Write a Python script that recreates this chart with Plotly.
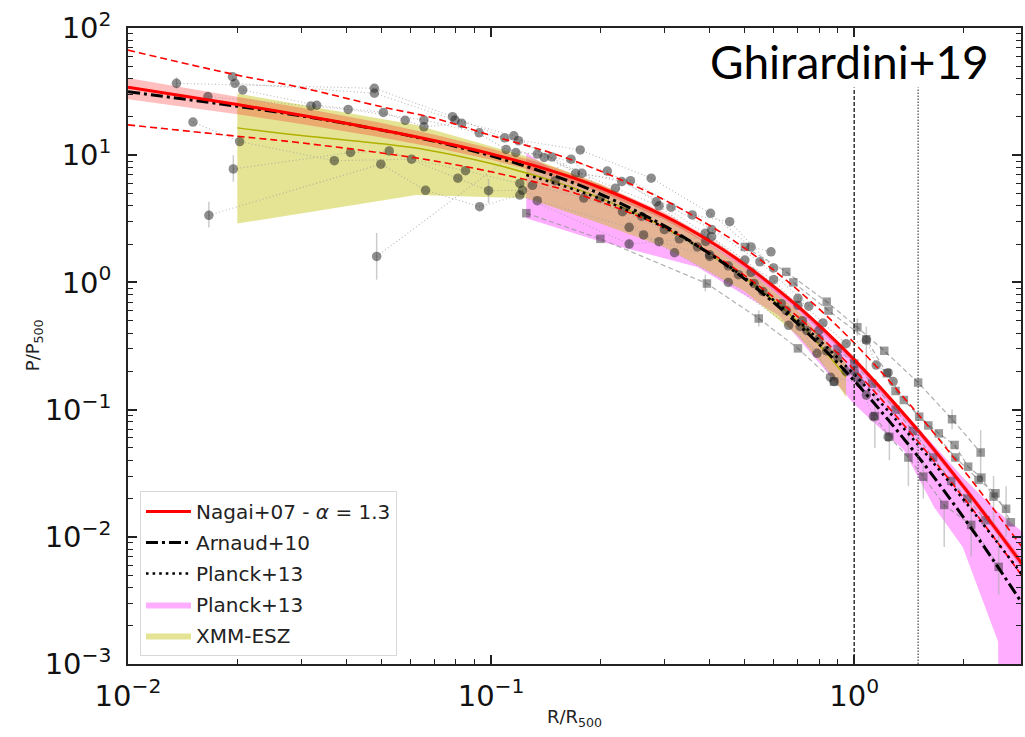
import math
import plotly.graph_objects as go

# ---------------- data ----------------
X_MODEL = [0.01, 0.02, 0.03, 0.05, 0.07, 0.1, 0.15, 0.2, 0.3, 0.4, 0.5, 0.7, 1.0, 1.5, 2.0, 2.5, 2.9]
NAGAI = [34.2, 25.0, 20.6, 15.8, 13.0, 10.25, 7.39, 5.55, 3.33, 2.105, 1.38, 0.647, 0.247, 0.0684, 0.0248, 0.0108, 0.0061]
NAGAI_HI = [40.5, 29.0, 23.6, 17.9, 14.5, 11.3, 8.0, 5.95, 3.55, 2.24, 1.46, 0.685, 0.262, 0.0725, 0.0265, 0.0116, 0.0066]
NAGAI_LO = [27.5, 21.0, 17.6, 13.8, 11.5, 9.2, 6.8, 5.15, 3.12, 1.97, 1.3, 0.61, 0.232, 0.0643, 0.0232, 0.0100, 0.0056]
SCATTER_HI = [67.0, 42.6, 34.0, 24.0, 19.5, 14.3, 10.2, 7.5, 4.45, 2.8, 1.85, 0.87, 0.334, 0.092, 0.0335, 0.0146, 0.0083]
SCATTER_LO = [17.3, 14.1, 12.5, 10.4, 9.0, 7.4, 5.6, 4.3, 2.7, 1.72, 1.13, 0.535, 0.205, 0.056, 0.0203, 0.0088, 0.0049]
ARNAUD = [31.5, 24.26, 20.37, 15.75, 12.84, 9.905, 6.85, 4.95, 2.787, 1.678, 1.0605, 0.471, 0.1687, 0.04267, 0.0142, 0.00567, 0.0030]

X_PLANCK = [0.125, 0.15, 0.2, 0.3, 0.4, 0.5, 0.7, 1.0, 1.5, 2.0, 2.5, 2.9]
PLANCK = [7.0, 6.02, 4.53, 2.70, 1.68, 1.086, 0.50, 0.189, 0.0528, 0.0196, 0.00875, 0.00504]

X_PLANCK_BAND_HI = [0.125, 0.15, 0.2, 0.3, 0.5, 0.7, 1.0, 1.5, 2.0, 2.5, 2.9]
PLANCK_BAND_HI = [10.4, 7.5, 5.5, 3.3, 1.35, 0.64, 0.25, 0.072, 0.029, 0.0155, 0.011]
X_PLANCK_BAND_LO = [0.125, 0.2, 0.37, 0.62, 1.0, 1.37, 1.66, 1.99, 2.49, 2.5, 2.9]
PLANCK_BAND_LO = [3.2, 2.1, 1.32, 0.55, 0.11, 0.048, 0.0171, 0.0083, 0.0015, 0.0005, 0.0005]

X_XMM = [0.02, 0.0622, 0.125, 0.2, 0.3, 0.5, 0.7, 0.85, 0.95]
XMM_HI = [30.5, 17.3, 9.8, 5.9, 3.4, 1.3, 0.6, 0.33, 0.23]
XMM_LO = [2.9, 4.86, 4.6, 2.9, 1.9, 0.85, 0.38, 0.2, 0.125]
X_XMM_MED = [0.02, 0.03, 0.05, 0.0667, 0.1, 0.15, 0.2, 0.3, 0.5, 0.7, 0.95]
XMM_MED = [16.4, 14.3, 12.3, 11.0, 8.6, 6.2, 4.6, 2.7, 1.08, 0.49, 0.18]

# individual cluster profiles (X-ray: circles, SZ: squares)
CIRC_X = [
    [0.0136, 0.0477, 0.0783, 0.109, 0.176, 0.276, 0.402, 0.52, 0.59],
    [0.0194, 0.0197, 0.0477, 0.0796, 0.1155, 0.171, 0.242, 0.358, 0.454, 0.6],
    [0.0166, 0.0319, 0.0404, 0.0653, 0.0927, 0.119, 0.178, 0.229, 0.313, 0.405, 0.55, 0.75],
    [0.0207, 0.0331, 0.0505, 0.058, 0.0653, 0.083, 0.110, 0.147, 0.209, 0.285, 0.389, 0.5, 0.7],
    [0.0151, 0.0203, 0.037, 0.0604, 0.085, 0.120, 0.134, 0.24, 0.29, 0.4],
    [0.0195, 0.041, 0.0524, 0.081, 0.0984, 0.122, 0.166, 0.263, 0.32, 0.45, 0.66, 0.79, 0.88],
    [0.0167, 0.0497, 0.066, 0.093, 0.12, 0.24, 0.405, 0.52, 0.71, 0.86, 1.04],
    [0.0484, 0.117, 0.134, 0.14, 0.22, 0.29, 0.39, 0.6, 0.8, 1.0, 1.13, 1.24],
    [0.15, 0.2, 0.26, 0.33, 0.4, 0.48, 0.56, 0.65, 0.74, 0.84, 0.95, 1.08],
    [0.13, 0.18, 0.23, 0.3, 0.37, 0.45, 0.53, 0.63, 0.72, 0.8, 0.9, 1.02],
    [0.7, 0.82, 0.95, 1.08, 1.15, 1.24, 1.28],
]
CIRC_Y = [
    [36.7, 33.6, 20.1, 13.7, 11.0, 6.6, 3.49, 1.9, 1.74],
    [41.4, 36.7, 30.7, 18.9, 14.2, 7.2, 6.3, 3.39, 3.0, 1.3],
    [28.9, 24.4, 22.9, 18.9, 15.0, 13.0, 7.2, 6.2, 3.9, 2.6, 1.45, 0.65],
    [32.6, 24.7, 21.7, 18.8, 16.7, 17.8, 11.1, 9.7, 7.5, 4.3, 2.43, 1.5, 0.66],
    [18.2, 12.8, 9.06, 9.3, 7.55, 6.0, 4.39, 2.71, 2.09, 1.6],
    [7.8, 10.5, 10.8, 6.6, 5.26, 5.3, 9.3, 2.36, 1.71, 1.0, 0.46, 0.277, 0.166],
    [3.37, 8.5, 5.3, 3.94, 4.86, 2.0, 2.29, 1.2, 0.45, 0.18, 0.161],
    [1.6, 10.5, 10.2, 9.6, 5.5, 4.0, 2.1, 1.05, 0.42, 0.2, 0.088, 0.061],
    [6.3, 4.6, 3.3, 2.2, 1.65, 1.15, 0.85, 0.6, 0.42, 0.29, 0.2, 0.13],
    [5.8, 4.6, 3.6, 2.6, 1.9, 1.35, 0.98, 0.68, 0.5, 0.36, 0.26, 0.18],
    [0.75, 0.48, 0.33, 0.352, 0.224, 0.195, 0.166],
]
SQ_X = [
    [0.5, 0.65, 0.84, 1.02, 1.21, 1.5, 1.86, 2.23],
    [0.68, 0.85, 1.08, 1.23, 1.37, 1.51, 1.71, 1.89, 2.06, 2.24, 2.42, 2.62],
    [0.125, 0.2, 0.393, 0.546, 0.70, 0.88],
    [1.14, 1.25, 1.41, 1.55, 1.77, 2.1, 2.5],
    [0.9, 1.0, 1.12, 1.3, 1.45, 1.65, 1.85, 2.05, 2.3],
    [1.3, 1.6, 1.9, 2.2, 2.45, 2.7],
]
SQ_Y = [
    [1.9, 1.21, 0.705, 0.444, 0.29, 0.163, 0.084, 0.046],
    [1.0, 0.6, 0.357, 0.193, 0.119, 0.088, 0.065, 0.0527, 0.0356, 0.0292, 0.0207, 0.0166],
    [3.5, 2.2, 0.98, 0.52, 0.303, 0.166],
    [0.089, 0.061, 0.042, 0.0297, 0.0178, 0.0124, 0.0058],
    [0.3, 0.23, 0.16, 0.1, 0.068, 0.042, 0.0275, 0.02, 0.0135],
    [0.14, 0.075, 0.042, 0.028, 0.022, 0.013],
]
ERR_X = [0.0136, 0.0195, 0.0167, 0.0484, 0.0984, 0.24, 0.389, 0.546, 1.02, 1.08, 1.14, 1.25,
         1.41, 1.55, 1.77, 1.86, 2.1, 2.23, 2.42, 2.5, 2.62]
ERR_LO = [33.0, 6.2, 2.7, 1.05, 4.2, 1.85, 0.85, 0.45, 0.38, 0.2, 0.05, 0.04,
          0.025, 0.02, 0.0083, 0.07, 0.007, 0.0295, 0.012, 0.0035, 0.01]
ERR_HI = [41.0, 10.0, 4.3, 2.45, 6.5, 2.2, 1.15, 0.6, 0.52, 0.45, 0.16, 0.09,
          0.065, 0.04, 0.018, 0.1, 0.02, 0.069, 0.03, 0.011, 0.025]

VLINE_X = [1.0, 1.5]
VLINE_Y = [0.001, 34.0]

X_TICKVALS = [0.01, 0.1, 1.0]
X_TICKTEXT = ["10<sup>\u22122</sup>", "10<sup>\u22121</sup>", "10<sup>0</sup>"]
Y_TICKVALS = [0.001, 0.01, 0.1, 1.0, 10.0, 100.0]
Y_TICKTEXT = ["10<sup>\u22123</sup>", "10<sup>\u22122</sup>", "10<sup>\u22121</sup>",
              "10<sup>0</sup>", "10<sup>1</sup>", "10<sup>2</sup>"]

X_MAX = 2.88

LEGEND_NAMES = ["Nagai+07 - <i>\u03b1</i> = 1.3", "Arnaud+10", "Planck+13", "Planck+13", "XMM-ESZ"]

# ---------------- figure ----------------
fig = go.Figure()

# Planck band
fig.add_trace(go.Scatter(
    x=X_PLANCK_BAND_HI + X_PLANCK_BAND_LO[::-1], y=PLANCK_BAND_HI + PLANCK_BAND_LO[::-1],
    fill="toself", fillcolor="rgba(255,0,255,0.32)", line=dict(width=0), mode="lines",
    name=LEGEND_NAMES[3], legendrank=4, legendgroup="g4", hoverinfo="skip"))
# XMM-ESZ band
fig.add_trace(go.Scatter(
    x=X_XMM + X_XMM[::-1], y=XMM_HI + XMM_LO[::-1], fill="toself",
    fillcolor="rgba(191,191,0,0.42)", line=dict(width=0), mode="lines",
    name=LEGEND_NAMES[4], legendrank=5, legendgroup="g5", hoverinfo="skip"))
# Nagai band
fig.add_trace(go.Scatter(
    x=X_MODEL + X_MODEL[::-1], y=NAGAI_HI + NAGAI_LO[::-1], fill="toself",
    fillcolor="rgba(255,0,0,0.25)", line=dict(width=0), mode="lines",
    showlegend=False, hoverinfo="skip"))
# XMM median line
fig.add_trace(go.Scatter(x=X_XMM_MED, y=XMM_MED, mode="lines", line=dict(color="#b0b000", width=1.5),
                         line_shape="spline", showlegend=False))

# error bars
ex, ey = [], []
for xv, lo, hi in zip(ERR_X, ERR_LO, ERR_HI):
    ex += [xv, xv, None]
    ey += [lo, hi, None]
fig.add_trace(go.Scatter(x=ex, y=ey, mode="lines", line=dict(color="rgba(170,170,170,0.6)", width=1.5),
                         showlegend=False, hoverinfo="skip"))

for xs, ys in zip(CIRC_X, CIRC_Y):
    fig.add_trace(go.Scatter(
        x=xs, y=ys, mode="lines+markers",
        line=dict(color="rgba(160,160,160,0.75)", width=1.1, dash="1px,2.5px"),
        marker=dict(symbol="circle", size=9.5, color="rgba(30,30,30,0.5)", line=dict(width=0)),
        showlegend=False))
for xs, ys in zip(SQ_X, SQ_Y):
    fig.add_trace(go.Scatter(
        x=xs, y=ys, mode="lines+markers",
        line=dict(color="rgba(150,150,150,0.75)", width=1.2, dash="5px,3px"),
        marker=dict(symbol="square", size=8.5, color="rgba(30,30,30,0.45)", line=dict(width=0)),
        showlegend=False))

# scatter envelope
fig.add_trace(go.Scatter(x=X_MODEL, y=SCATTER_HI, mode="lines", line_shape="spline",
                         line=dict(color="red", width=1.6, dash="7px,4px"), showlegend=False))
fig.add_trace(go.Scatter(x=X_MODEL, y=SCATTER_LO, mode="lines", line_shape="spline",
                         line=dict(color="red", width=1.6, dash="7px,4px"), showlegend=False))
# Planck+13 model
fig.add_trace(go.Scatter(x=X_PLANCK, y=PLANCK, mode="lines", line_shape="spline",
                         line=dict(color="black", width=2.6, dash="2.6px,4px"),
                         name=LEGEND_NAMES[2], legendrank=3, legendgroup="g3"))
# Arnaud+10 model
fig.add_trace(go.Scatter(x=X_MODEL, y=ARNAUD, mode="lines", line_shape="spline",
                         line=dict(color="black", width=3, dash="12px,4px,3px,4px"),
                         name=LEGEND_NAMES[1], legendrank=2, legendgroup="g2"))
# Nagai model (best fit)
fig.add_trace(go.Scatter(x=X_MODEL, y=NAGAI, mode="lines", line_shape="spline",
                         line=dict(color="red", width=3), name=LEGEND_NAMES[0],
                         legendrank=1, legendgroup="g1"))

# vertical reference lines
fig.add_trace(go.Scatter(x=[VLINE_X[0]] * 2, y=VLINE_Y, mode="lines",
                         line=dict(color="#333333", width=1.5, dash="4px,2px"), showlegend=False))
fig.add_trace(go.Scatter(x=[VLINE_X[1]] * 2, y=VLINE_Y, mode="lines",
                         line=dict(color="#555555", width=1.3, dash="1.5px,1.5px"), showlegend=False))

x_minor = [m * 10 ** d for d in (-2, -1, 0) for m in range(2, 10) if m * 10 ** d <= X_MAX]
y_minor = [m * 10 ** d for d in (-3, -2, -1, 0, 1) for m in range(2, 10)]

axis_common = dict(
    type="log", showgrid=False, zeroline=False, showline=True, linecolor="#222222",
    linewidth=1.5, mirror="ticks", ticks="inside", ticklen=9, tickwidth=1.5,
    tickcolor="#222222", tickfont=dict(family="DejaVu Sans", size=29, color="#111111"),
)
fig.update_xaxes(**axis_common, range=[-2, math.log10(X_MAX)], tickvals=X_TICKVALS,
                 ticktext=X_TICKTEXT, ticklabelstandoff=5,
                 minor=dict(ticks="inside", ticklen=5, tickwidth=1, tickcolor="#222222",
                            tickvals=x_minor, showgrid=False))
fig.update_yaxes(**axis_common, range=[-3, 2], tickvals=Y_TICKVALS, ticktext=Y_TICKTEXT,
                 ticklabelstandoff=9,
                 minor=dict(ticks="inside", ticklen=5, tickwidth=1, tickcolor="#222222",
                            tickvals=y_minor, showgrid=False))

fig.update_layout(
    width=1025, height=737,
    margin=dict(l=128, r=2, t=28, b=73),
    paper_bgcolor="white", plot_bgcolor="white",
    showlegend=True,
    legend=dict(x=0.0134, y=0.272, xanchor="left", yanchor="top",
                bgcolor="rgba(255,255,255,0.85)", bordercolor="#d8d8d8", borderwidth=1,
                font=dict(family="DejaVu Sans", size=20, color="#222222"),
                itemwidth=45, traceorder="grouped", tracegroupgap=2),
    annotations=[
        dict(text="R/R<sub>500</sub>", x=0.5, y=-0.085, xref="paper", yref="paper",
             showarrow=False, font=dict(family="DejaVu Sans", size=18, color="#222222"),
             xanchor="center", yanchor="middle"),
        dict(text="P/P<sub>500</sub>", x=-0.105, y=0.5016, xref="paper", yref="paper",
             showarrow=False, textangle=-90,
             font=dict(family="DejaVu Sans", size=18, color="#222222"),
             xanchor="center", yanchor="middle"),
        dict(text="Ghirardini+19", x=0.8078, y=0.948, xref="paper", yref="paper",
             showarrow=False, font=dict(family="Lato", size=46, color="black"),
             xanchor="center", yanchor="middle"),
    ],
)

fig.write_html("out.html")
